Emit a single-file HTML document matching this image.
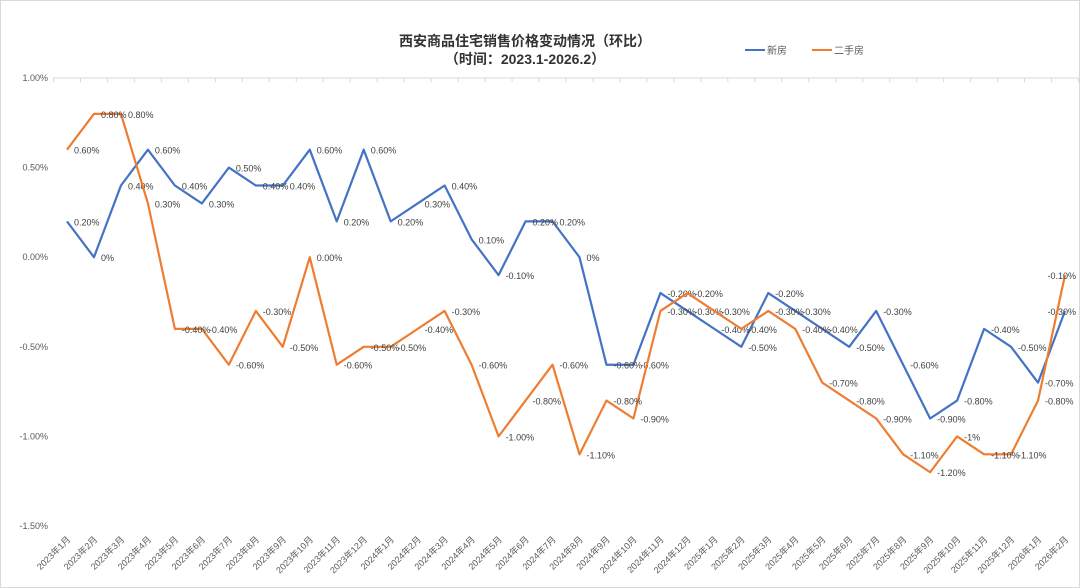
<!DOCTYPE html>
<html><head><meta charset="utf-8"><style>
html,body{margin:0;padding:0;background:#fff;}
svg{display:block;font-family:"Liberation Sans","Noto Sans CJK SC",sans-serif;}
</style></head><body>
<svg id="chart" width="1080" height="588">
<rect x="0.5" y="0.5" width="1079" height="587" fill="#fff" stroke="#d9d9d9"/>
<text x="525" y="46" text-anchor="middle" font-size="14" font-weight="bold" fill="#333">西安商品住宅销售价格变动情况（环比）</text>
<text x="525" y="64" text-anchor="middle" font-size="14" font-weight="bold" fill="#333">（时间：2023.1-2026.2）</text>
<g>
<g><line x1="745" y1="50" x2="765" y2="50" stroke="#4472c4" stroke-width="2"/><text x="767" y="54" font-size="10" fill="#595959">新房</text></g>
<g><line x1="812" y1="50" x2="832" y2="50" stroke="#ed7d31" stroke-width="2"/><text x="834" y="54" font-size="10" fill="#595959">二手房</text></g>
</g>
<g id="yaxis"></g>
<g id="xaxis"></g>
<g id="series"></g>
</svg>
<script>
const categories=[];
for(let y=2023;y<=2026;y++)for(let m=1;m<=12;m++){if(y===2026&&m>2)break;categories.push(y+'年'+m+'月');}
const newHouse=[0.2,0,0.4,0.6,0.4,0.3,0.5,0.4,0.4,0.6,0.2,0.6,0.2,0.3,0.4,0.1,-0.1,0.2,0.2,0,-0.6,-0.6,-0.2,-0.3,-0.4,-0.5,-0.2,-0.3,-0.4,-0.5,-0.3,-0.6,-0.9,-0.8,-0.4,-0.5,-0.7,-0.3];
const secondHand=[0.6,0.8,0.8,0.3,-0.4,-0.4,-0.6,-0.3,-0.5,0.0,-0.6,-0.5,-0.5,-0.4,-0.3,-0.6,-1.0,-0.8,-0.6,-1.1,-0.8,-0.9,-0.3,-0.2,-0.3,-0.4,-0.3,-0.4,-0.7,-0.8,-0.9,-1.1,-1.2,-1.0,-1.1,-1.1,-0.8,-0.1];
const yTicks=[1.0,0.5,0,-0.5,-1.0,-1.5];
const yTickLabels=['1.00%','0.50%','0.00%','-0.50%','-1.00%','-1.50%'];
const secondHandLabelOverrides={33:'-1%'};
const NS='http://www.w3.org/2000/svg';
const x0=67,x1=1065,yTop=78,yBot=526,vMax=1.0,vMin=-1.5;
const step=(x1-x0)/(categories.length-1);
const xs=i=>x0+i*step;
const ys=v=>yTop+(vMax-v)/(vMax-vMin)*(yBot-yTop);
function mk(t,a,p){const e=document.createElementNS(NS,t);for(const k in a)e.setAttribute(k,a[k]);p.appendChild(e);return e;}
const ya=document.getElementById('yaxis');
yTicks.forEach((v,i)=>{const t=mk('text',{x:48,y:ys(v)+3,'text-anchor':'end','font-size':9,fill:'#595959'},ya);t.textContent=yTickLabels[i];

});
const xa=document.getElementById('xaxis');
const al=mk('line',{x1:x0-step/2,y1:yTop,x2:x1+step/2,y2:yTop,stroke:'#d9d9d9'},xa);


for(let i=0;i<=categories.length;i++){const tx=x0-step/2+i*step;const tk=mk('line',{x1:tx,y1:yTop,x2:tx,y2:yTop+4,stroke:'#d9d9d9'},xa);

}
categories.forEach((c,i)=>{const x=xs(i)+4,y=540;const t=mk('text',{x:x,y:y,'text-anchor':'end','font-size':9,fill:'#595959',transform:`rotate(-45 ${x} ${y})`},xa);t.textContent=c;

});
function series(data,color,name,zeroTxt,overrides){
const g=document.getElementById('series');
const p=mk('polyline',{points:data.map((v,i)=>xs(i)+','+ys(v)).join(' '),fill:'none',stroke:color,'stroke-width':2.2,'stroke-linejoin':'round'},g);


data.forEach((v,i)=>{const last=i===data.length-1;
const t=mk('text',last?{x:1076,y:ys(v)+4,'font-size':9,fill:'#404040','text-anchor':'end'}:{x:xs(i)+7,y:ys(v)+4,'font-size':9,fill:'#404040'},g);
t.textContent=(overrides&&overrides[i])?overrides[i]:(v===0?zeroTxt:v.toFixed(2)+'%');

});
}
series(newHouse,'#4472c4','new-house','0%',null);
series(secondHand,'#ed7d31','second-hand','0.00%',secondHandLabelOverrides);
</script>
</body></html>
